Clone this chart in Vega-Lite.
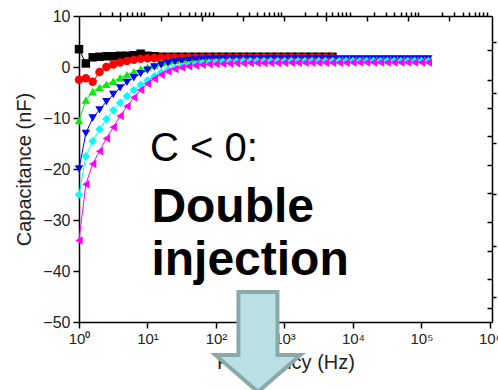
{
  "$schema": "https://vega.github.io/schema/vega-lite/v6.json",
  "width": 413,
  "height": 306,
  "autosize": "none",
  "padding": {"left": 79, "top": 16, "right": 6, "bottom": 68},
  "background": "white",
  "config": {"view": {"stroke": null}, "font": "Liberation Sans", "axis": {"zindex": 0, "grid": false, "domainColor": "#000000", "tickColor": "#000000", "domainWidth": 1.5, "tickWidth": 1.5, "labelColor": "#222222", "titleColor": "#222222", "labelFont": "Liberation Sans", "titleFont": "Liberation Sans", "titleFontWeight": "normal"}},
  "datasets": {
    "curves": [
      {"series":"S1","freq":1,"cap":3.5},{"series":"S1","freq":1.259,"cap":0.7},{"series":"S1","freq":1.585,"cap":1.9},{"series":"S1","freq":1.995,"cap":2.0},{"series":"S1","freq":2.512,"cap":2.1},{"series":"S1","freq":3.162,"cap":2.1},{"series":"S1","freq":3.981,"cap":2.2},{"series":"S1","freq":5.012,"cap":2.2},{"series":"S1","freq":6.31,"cap":2.3},{"series":"S1","freq":7.943,"cap":2.6},{"series":"S1","freq":10,"cap":2.2},{"series":"S1","freq":12.59,"cap":2.1},{"series":"S1","freq":15.85,"cap":2.0},{"series":"S1","freq":19.95,"cap":2.0},{"series":"S1","freq":25.12,"cap":2.0},{"series":"S1","freq":31.62,"cap":2.0},{"series":"S1","freq":39.81,"cap":2.0},{"series":"S1","freq":50.12,"cap":2.0},{"series":"S1","freq":63.1,"cap":2.0},{"series":"S1","freq":79.43,"cap":2.0},{"series":"S1","freq":100,"cap":2.0},{"series":"S1","freq":125.9,"cap":2.0},{"series":"S1","freq":158.5,"cap":2.0},{"series":"S1","freq":199.5,"cap":2.0},{"series":"S1","freq":251.2,"cap":2.0},{"series":"S1","freq":316.2,"cap":2.0},{"series":"S1","freq":398.1,"cap":2.0},{"series":"S1","freq":501.2,"cap":2.0},{"series":"S1","freq":631,"cap":2.0},{"series":"S1","freq":794.3,"cap":2.0},{"series":"S1","freq":1000,"cap":2.0},{"series":"S1","freq":1259,"cap":2.0},{"series":"S1","freq":1585,"cap":2.0},{"series":"S1","freq":1995,"cap":2.0},{"series":"S1","freq":2512,"cap":2.0},{"series":"S1","freq":3162,"cap":2.0},{"series":"S1","freq":3981,"cap":2.0},{"series":"S1","freq":5012,"cap":2.0},
      {"series":"S2","freq":1,"cap":-2.5},{"series":"S2","freq":1.259,"cap":-2.2},{"series":"S2","freq":1.585,"cap":-2.9},{"series":"S2","freq":1.995,"cap":-1.0},{"series":"S2","freq":2.512,"cap":0.0},{"series":"S2","freq":3.162,"cap":0.5},{"series":"S2","freq":3.981,"cap":0.9},{"series":"S2","freq":5.012,"cap":1.2},{"series":"S2","freq":6.31,"cap":1.4},{"series":"S2","freq":7.943,"cap":1.6},{"series":"S2","freq":10,"cap":1.7},{"series":"S2","freq":12.59,"cap":1.75},{"series":"S2","freq":15.85,"cap":1.8},{"series":"S2","freq":19.95,"cap":1.85},{"series":"S2","freq":25.12,"cap":1.85},{"series":"S2","freq":31.62,"cap":1.85},{"series":"S2","freq":39.81,"cap":1.85},{"series":"S2","freq":50.12,"cap":1.85},{"series":"S2","freq":63.1,"cap":1.85},{"series":"S2","freq":79.43,"cap":1.85},{"series":"S2","freq":100,"cap":1.85},{"series":"S2","freq":125.9,"cap":1.85},{"series":"S2","freq":158.5,"cap":1.85},{"series":"S2","freq":199.5,"cap":1.85},{"series":"S2","freq":251.2,"cap":1.85},{"series":"S2","freq":316.2,"cap":1.85},{"series":"S2","freq":398.1,"cap":1.85},{"series":"S2","freq":501.2,"cap":1.85},{"series":"S2","freq":631,"cap":1.85},{"series":"S2","freq":794.3,"cap":1.85},{"series":"S2","freq":1000,"cap":1.85},{"series":"S2","freq":1259,"cap":1.85},{"series":"S2","freq":1585,"cap":1.85},{"series":"S2","freq":1995,"cap":1.85},{"series":"S2","freq":2512,"cap":1.85},{"series":"S2","freq":3162,"cap":1.85},{"series":"S2","freq":3981,"cap":1.85},{"series":"S2","freq":5012,"cap":1.85},
      {"series":"S3","freq":1,"cap":-10.5},{"series":"S3","freq":1.259,"cap":-6.5},{"series":"S3","freq":1.585,"cap":-4.8},{"series":"S3","freq":1.995,"cap":-4.0},{"series":"S3","freq":2.512,"cap":-3.4},{"series":"S3","freq":3.162,"cap":-2.8},{"series":"S3","freq":3.981,"cap":-2.1},{"series":"S3","freq":5.012,"cap":-1.5},{"series":"S3","freq":6.31,"cap":-0.9},{"series":"S3","freq":7.943,"cap":-0.4},{"series":"S3","freq":10,"cap":0.0},{"series":"S3","freq":12.59,"cap":0.4},{"series":"S3","freq":15.85,"cap":0.8},{"series":"S3","freq":19.95,"cap":1.05},{"series":"S3","freq":25.12,"cap":1.25},{"series":"S3","freq":31.62,"cap":1.4},{"series":"S3","freq":39.81,"cap":1.5},{"series":"S3","freq":50.12,"cap":1.6},{"series":"S3","freq":63.1,"cap":1.65},{"series":"S3","freq":79.43,"cap":1.7},{"series":"S3","freq":100,"cap":1.75},{"series":"S3","freq":125.9,"cap":1.75},{"series":"S3","freq":158.5,"cap":1.75},{"series":"S3","freq":199.5,"cap":1.75},{"series":"S3","freq":251.2,"cap":1.75},{"series":"S3","freq":316.2,"cap":1.75},{"series":"S3","freq":398.1,"cap":1.75},{"series":"S3","freq":501.2,"cap":1.75},{"series":"S3","freq":631,"cap":1.75},{"series":"S3","freq":794.3,"cap":1.75},{"series":"S3","freq":1000,"cap":1.75},{"series":"S3","freq":1259,"cap":1.75},{"series":"S3","freq":1585,"cap":1.75},{"series":"S3","freq":1995,"cap":1.75},{"series":"S3","freq":2512,"cap":1.75},{"series":"S3","freq":3162,"cap":1.75},{"series":"S3","freq":3981,"cap":1.75},{"series":"S3","freq":5012,"cap":1.75},{"series":"S3","freq":6310,"cap":1.75},{"series":"S3","freq":7943,"cap":1.75},{"series":"S3","freq":10000,"cap":1.75},{"series":"S3","freq":12590,"cap":1.75},{"series":"S3","freq":15850,"cap":1.75},{"series":"S3","freq":19950,"cap":1.75},{"series":"S3","freq":25120,"cap":1.75},{"series":"S3","freq":31620,"cap":1.75},{"series":"S3","freq":39810,"cap":1.75},{"series":"S3","freq":50120,"cap":1.75},{"series":"S3","freq":63100,"cap":1.75},{"series":"S3","freq":79430,"cap":1.75},{"series":"S3","freq":100000,"cap":1.75},{"series":"S3","freq":125900,"cap":1.75},
      {"series":"S4","freq":1,"cap":-20},{"series":"S4","freq":1.259,"cap":-13},{"series":"S4","freq":1.585,"cap":-10},{"series":"S4","freq":1.995,"cap":-8.4},{"series":"S4","freq":2.512,"cap":-6.8},{"series":"S4","freq":3.162,"cap":-5.4},{"series":"S4","freq":3.981,"cap":-4.1},{"series":"S4","freq":5.012,"cap":-3.0},{"series":"S4","freq":6.31,"cap":-2.1},{"series":"S4","freq":7.943,"cap":-1.3},{"series":"S4","freq":10,"cap":-0.6},{"series":"S4","freq":12.59,"cap":0.0},{"series":"S4","freq":15.85,"cap":0.4},{"series":"S4","freq":19.95,"cap":0.75},{"series":"S4","freq":25.12,"cap":1.0},{"series":"S4","freq":31.62,"cap":1.2},{"series":"S4","freq":39.81,"cap":1.3},{"series":"S4","freq":50.12,"cap":1.4},{"series":"S4","freq":63.1,"cap":1.5},{"series":"S4","freq":79.43,"cap":1.55},{"series":"S4","freq":100,"cap":1.6},{"series":"S4","freq":125.9,"cap":1.6},{"series":"S4","freq":158.5,"cap":1.6},{"series":"S4","freq":199.5,"cap":1.6},{"series":"S4","freq":251.2,"cap":1.6},{"series":"S4","freq":316.2,"cap":1.6},{"series":"S4","freq":398.1,"cap":1.6},{"series":"S4","freq":501.2,"cap":1.6},{"series":"S4","freq":631,"cap":1.6},{"series":"S4","freq":794.3,"cap":1.6},{"series":"S4","freq":1000,"cap":1.6},{"series":"S4","freq":1259,"cap":1.6},{"series":"S4","freq":1585,"cap":1.6},{"series":"S4","freq":1995,"cap":1.6},{"series":"S4","freq":2512,"cap":1.6},{"series":"S4","freq":3162,"cap":1.6},{"series":"S4","freq":3981,"cap":1.6},{"series":"S4","freq":5012,"cap":1.6},{"series":"S4","freq":6310,"cap":1.6},{"series":"S4","freq":7943,"cap":1.6},{"series":"S4","freq":10000,"cap":1.6},{"series":"S4","freq":12590,"cap":1.6},{"series":"S4","freq":15850,"cap":1.6},{"series":"S4","freq":19950,"cap":1.6},{"series":"S4","freq":25120,"cap":1.6},{"series":"S4","freq":31620,"cap":1.6},{"series":"S4","freq":39810,"cap":1.6},{"series":"S4","freq":50120,"cap":1.6},{"series":"S4","freq":63100,"cap":1.6},{"series":"S4","freq":79430,"cap":1.6},{"series":"S4","freq":100000,"cap":1.6},{"series":"S4","freq":125900,"cap":1.6},
      {"series":"S5","freq":1,"cap":-25},{"series":"S5","freq":1.259,"cap":-17.5},{"series":"S5","freq":1.585,"cap":-14.5},{"series":"S5","freq":1.995,"cap":-12.2},{"series":"S5","freq":2.512,"cap":-10.2},{"series":"S5","freq":3.162,"cap":-8.5},{"series":"S5","freq":3.981,"cap":-7.0},{"series":"S5","freq":5.012,"cap":-5.7},{"series":"S5","freq":6.31,"cap":-4.5},{"series":"S5","freq":7.943,"cap":-3.5},{"series":"S5","freq":10,"cap":-2.6},{"series":"S5","freq":12.59,"cap":-1.8},{"series":"S5","freq":15.85,"cap":-1.1},{"series":"S5","freq":19.95,"cap":-0.6},{"series":"S5","freq":25.12,"cap":-0.2},{"series":"S5","freq":31.62,"cap":0.1},{"series":"S5","freq":39.81,"cap":0.4},{"series":"S5","freq":50.12,"cap":0.6},{"series":"S5","freq":63.1,"cap":0.8},{"series":"S5","freq":79.43,"cap":0.9},{"series":"S5","freq":100,"cap":1.0},{"series":"S5","freq":125.9,"cap":1.05},{"series":"S5","freq":158.5,"cap":1.1},{"series":"S5","freq":199.5,"cap":1.15},{"series":"S5","freq":251.2,"cap":1.2},{"series":"S5","freq":316.2,"cap":1.2},{"series":"S5","freq":398.1,"cap":1.2},{"series":"S5","freq":501.2,"cap":1.2},{"series":"S5","freq":631,"cap":1.2},{"series":"S5","freq":794.3,"cap":1.2},{"series":"S5","freq":1000,"cap":1.2},{"series":"S5","freq":1259,"cap":1.2},{"series":"S5","freq":1585,"cap":1.2},{"series":"S5","freq":1995,"cap":1.2},{"series":"S5","freq":2512,"cap":1.2},{"series":"S5","freq":3162,"cap":1.2},{"series":"S5","freq":3981,"cap":1.2},{"series":"S5","freq":5012,"cap":1.2},{"series":"S5","freq":6310,"cap":1.2},{"series":"S5","freq":7943,"cap":1.2},{"series":"S5","freq":10000,"cap":1.2},{"series":"S5","freq":12590,"cap":1.2},{"series":"S5","freq":15850,"cap":1.2},{"series":"S5","freq":19950,"cap":1.2},{"series":"S5","freq":25120,"cap":1.2},{"series":"S5","freq":31620,"cap":1.2},{"series":"S5","freq":39810,"cap":1.2},{"series":"S5","freq":50120,"cap":1.2},{"series":"S5","freq":63100,"cap":1.2},{"series":"S5","freq":79430,"cap":1.2},{"series":"S5","freq":100000,"cap":1.2},{"series":"S5","freq":125900,"cap":1.2},
      {"series":"S6","freq":1,"cap":-34},{"series":"S6","freq":1.259,"cap":-23},{"series":"S6","freq":1.585,"cap":-19},{"series":"S6","freq":1.995,"cap":-16.5},{"series":"S6","freq":2.512,"cap":-14},{"series":"S6","freq":3.162,"cap":-11.8},{"series":"S6","freq":3.981,"cap":-9.6},{"series":"S6","freq":5.012,"cap":-7.7},{"series":"S6","freq":6.31,"cap":-6.0},{"series":"S6","freq":7.943,"cap":-4.5},{"series":"S6","freq":10,"cap":-3.3},{"series":"S6","freq":12.59,"cap":-2.3},{"series":"S6","freq":15.85,"cap":-1.5},{"series":"S6","freq":19.95,"cap":-0.9},{"series":"S6","freq":25.12,"cap":-0.4},{"series":"S6","freq":31.62,"cap":-0.1},{"series":"S6","freq":39.81,"cap":0.15},{"series":"S6","freq":50.12,"cap":0.3},{"series":"S6","freq":63.1,"cap":0.45},{"series":"S6","freq":79.43,"cap":0.55},{"series":"S6","freq":100,"cap":0.6},{"series":"S6","freq":125.9,"cap":0.65},{"series":"S6","freq":158.5,"cap":0.7},{"series":"S6","freq":199.5,"cap":0.72},{"series":"S6","freq":251.2,"cap":0.75},{"series":"S6","freq":316.2,"cap":0.8},{"series":"S6","freq":398.1,"cap":0.8},{"series":"S6","freq":501.2,"cap":0.8},{"series":"S6","freq":631,"cap":0.8},{"series":"S6","freq":794.3,"cap":0.8},{"series":"S6","freq":1000,"cap":0.85},{"series":"S6","freq":1259,"cap":0.85},{"series":"S6","freq":1585,"cap":0.85},{"series":"S6","freq":1995,"cap":0.85},{"series":"S6","freq":2512,"cap":0.85},{"series":"S6","freq":3162,"cap":0.85},{"series":"S6","freq":3981,"cap":0.85},{"series":"S6","freq":5012,"cap":0.85},{"series":"S6","freq":6310,"cap":0.85},{"series":"S6","freq":7943,"cap":0.85},{"series":"S6","freq":10000,"cap":0.9},{"series":"S6","freq":12590,"cap":0.9},{"series":"S6","freq":15850,"cap":0.9},{"series":"S6","freq":19950,"cap":0.9},{"series":"S6","freq":25120,"cap":0.9},{"series":"S6","freq":31620,"cap":0.9},{"series":"S6","freq":39810,"cap":0.9},{"series":"S6","freq":50120,"cap":0.9},{"series":"S6","freq":63100,"cap":0.9},{"series":"S6","freq":79430,"cap":0.9},{"series":"S6","freq":100000,"cap":0.9},{"series":"S6","freq":125900,"cap":0.9}
    ],
    "note1": [{"label": "C < 0:", "freq": 10.9, "cap": -18.4}],
    "note2": [{"label": "Double", "freq": 11.4, "cap": -30.4}, {"label": "injection", "freq": 11.4, "cap": -40.7}],
    "arrow": [{"freq": 410, "cap": -53.9}]
  },
  "layer": [
    {
      "data": {"name": "curves"},
      "mark": {"type": "line", "strokeWidth": 1, "clip": false},
      "encoding": {
        "x": {"field": "freq", "type": "quantitative", "scale": {"type": "log", "domain": [1, 1071519], "nice": false},
          "axis": {"values": [1, 10, 100, 1000, 10000, 100000, 1000000], "labelExpr": "'10' + ['⁰','¹','²','³','⁴','⁵','⁶'][round(log(datum.value)/LN10)]", "title": "Frequency (Hz)", "tickSize": 6, "labelFontSize": 15, "titleFontSize": 20, "labelPadding": 3, "titlePadding": 6, "labelFlush": false, "labelOverlap": false}},
        "y": {"field": "cap", "type": "quantitative", "scale": {"domain": [-50, 10], "nice": false, "zero": false},
          "axis": {"values": [-50, -40, -30, -20, -10, 0, 10], "title": "Capacitance (nF)", "tickSize": 6, "labelFontSize": 16, "titleFontSize": 20, "labelPadding": 3, "titlePadding": 8, "labelFlush": false, "labelOverlap": false}},
        "color": {"field": "series", "type": "nominal", "scale": {"domain": ["S1", "S2", "S3", "S4", "S5", "S6"], "range": ["#000000", "#ff0000", "#00ee00", "#0000ff", "#00ffff", "#ff00ff"]}, "legend": null}
      }
    },
    {
      "data": {"name": "curves"},
      "mark": {"type": "point", "filled": true, "size": 72, "opacity": 1, "strokeWidth": 0, "clip": false},
      "encoding": {
        "x": {"field": "freq", "type": "quantitative", "scale": {"type": "log", "domain": [1, 1071519], "nice": false},
          "axis": {"values": [2,3,4,5,6,7,8,9,20,30,40,50,60,70,80,90,200,300,400,500,600,700,800,900,2000,3000,4000,5000,6000,7000,8000,9000,20000,30000,40000,50000,60000,70000,80000,90000,200000,300000,400000,500000,600000,700000,800000,900000], "labels": false, "domain": false, "title": null, "tickSize": 4}},
        "y": {"field": "cap", "type": "quantitative", "scale": {"domain": [-50, 10], "nice": false, "zero": false},
          "axis": {"values": [-45, -35, -25, -15, -5, 5], "labels": false, "domain": false, "title": null, "tickSize": 4}},
        "color": {"field": "series", "type": "nominal", "scale": {"domain": ["S1", "S2", "S3", "S4", "S5", "S6"], "range": ["#000000", "#ff0000", "#00ee00", "#0000ff", "#00ffff", "#ff00ff"]}, "legend": null},
        "shape": {"field": "series", "type": "nominal", "scale": {"domain": ["S1", "S2", "S3", "S4", "S5", "S6"], "range": ["square", "circle", "triangle-up", "triangle-down", "diamond", "triangle-left"]}, "legend": null}
      }
    },
    {
      "data": {"name": "note1"},
      "mark": {"type": "text", "align": "left", "baseline": "alphabetic", "fontSize": 40, "font": "Liberation Sans", "color": "#000000"},
      "encoding": {
        "x": {"field": "freq", "type": "quantitative", "scale": {"type": "log", "domain": [1, 1071519], "nice": false},
          "axis": {"orient": "bottom", "offset": -306, "values": [3.981, 15.85, 63.1, 251.2, 1000, 3981, 15850, 63100, 251200], "labels": false, "title": null, "tickSize": 5}},
        "y": {"field": "cap", "type": "quantitative", "scale": {"domain": [-50, 10], "nice": false, "zero": false}, "axis": null},
        "text": {"field": "label", "type": "nominal"}
      }
    },
    {
      "data": {"name": "note2"},
      "mark": {"type": "text", "align": "left", "baseline": "alphabetic", "fontSize": 48, "fontWeight": "bold", "font": "Liberation Sans", "color": "#000000"},
      "encoding": {
        "x": {"field": "freq", "type": "quantitative", "scale": {"type": "log", "domain": [1, 1071519], "nice": false}, "axis": null},
        "y": {"field": "cap", "type": "quantitative", "scale": {"domain": [-50, 10], "nice": false, "zero": false},
          "axis": {"orient": "left", "offset": -413, "values": [3.3, -2.5, -8.0, -13.6, -19.2, -24.8, -30.4, -36.0, -41.6, -47.2], "labels": false, "title": null, "tickSize": 5}},
        "text": {"field": "label", "type": "nominal"}
      }
    },
    {
      "data": {"name": "arrow"},
      "mark": {"type": "point", "shape": "M-0.39,-1L0.39,-1L0.39,0.26L0.85,0.26L0,1L-0.85,0.26L-0.39,0.26Z", "size": 10000, "filled": true, "fill": "#b9e0e3", "stroke": "#8aa9aa", "strokeWidth": 4, "opacity": 1, "fillOpacity": 1, "strokeOpacity": 1, "strokeJoin": "miter", "clip": false},
      "encoding": {
        "x": {"field": "freq", "type": "quantitative", "scale": {"type": "log", "domain": [1, 1071519], "nice": false}, "axis": null},
        "y": {"field": "cap", "type": "quantitative", "scale": {"domain": [-50, 10], "nice": false, "zero": false}, "axis": null}
      }
    }
  ],
  "resolve": {"axis": {"x": "independent", "y": "independent"}}
}
